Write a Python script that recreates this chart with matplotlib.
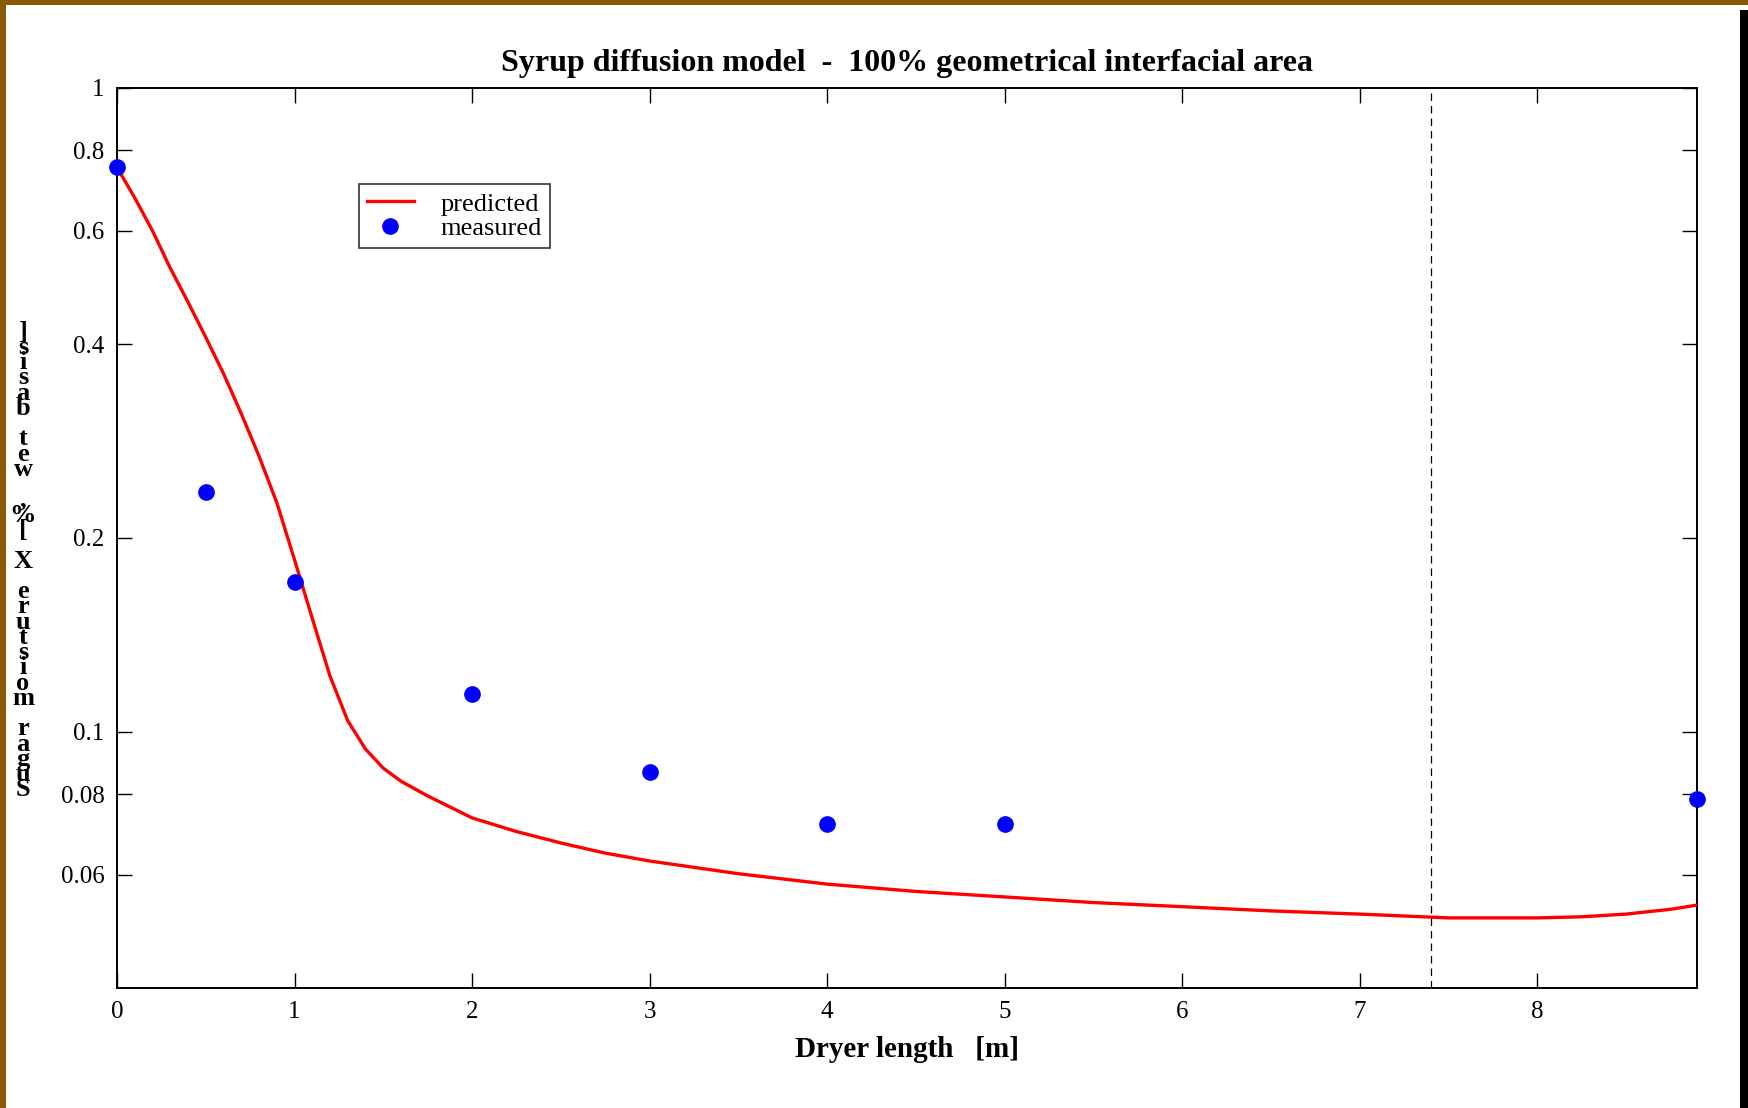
import matplotlib
matplotlib.use('Agg')
import matplotlib.pyplot as plt
from matplotlib.patches import Rectangle
from matplotlib.ticker import FixedLocator, NullLocator

# predicted curve
pred_x = [0.0, 0.1, 0.2, 0.3, 0.4, 0.5, 0.6, 0.7, 0.8, 0.9, 1.0, 1.1, 1.2,
          1.3, 1.4, 1.5, 1.6, 1.75, 2.0, 2.25, 2.5, 2.75, 3.0, 3.5, 4.0, 4.5,
          5.0, 5.5, 6.0, 6.5, 7.0, 7.5, 8.0, 8.25, 8.5, 8.75, 8.9]
pred_y = [0.753, 0.675, 0.6, 0.525, 0.465, 0.41, 0.36, 0.312, 0.268, 0.227,
          0.185, 0.15, 0.122, 0.104, 0.094, 0.0878, 0.0838, 0.0795, 0.0735,
          0.0700, 0.0672, 0.0648, 0.0630, 0.0602, 0.0580, 0.0565, 0.0554,
          0.0543, 0.0535, 0.0527, 0.0521, 0.0514, 0.0514, 0.0516, 0.0521,
          0.0530, 0.0538]

# measured points
meas_x = [0.0, 0.5, 1.0, 2.0, 3.0, 4.0, 5.0, 8.9]
meas_y = [0.753, 0.236, 0.171, 0.1146, 0.0866, 0.0718, 0.0718, 0.0787]

yticks = [0.06, 0.08, 0.1, 0.2, 0.4, 0.6, 0.8, 1]
ytick_labels = ['0.06', '0.08', '0.1', '0.2', '0.4', '0.6', '0.8', '1']
xticks = [0, 1, 2, 3, 4, 5, 6, 7, 8]
dryer_end = 7.4

ylabel = 'Sugar moisture X [%, wet basis]'

plt.rcParams['font.family'] = ['Liberation Serif', 'DejaVu Serif']

fig = plt.figure(figsize=(17.49, 11.08), dpi=100)
ax = fig.add_axes([117/1749, 1 - 988/1108, 1580/1749, 900/1108])

ax.plot(pred_x, pred_y, color='red', lw=2.4, label='predicted', zorder=3)
ax.plot(meas_x, meas_y, 'o', color='blue', ms=11, label='measured',
        clip_on=False, zorder=4)
ax.axvline(dryer_end, color='black', lw=0.9, ls=(0, (6, 4)))

ax.set_yscale('log')
ax.set_xlim(0, 8.9)
ax.set_ylim(0.04, 1)
ax.yaxis.set_major_locator(FixedLocator(yticks))
ax.yaxis.set_minor_locator(NullLocator())
ax.set_yticklabels(ytick_labels)
ax.set_xticks(xticks)
ax.tick_params(direction='in', length=11, width=1, top=True, right=True,
               labelsize=18, pad=9)
for s in ax.spines.values():
    s.set_linewidth(1.4)

ax.set_title('Syrup diffusion model  -  100% geometrical interfacial area',
             fontsize=23, fontweight='bold', pad=12)
ax.set_xlabel('Dryer length   [m]', fontsize=21, fontweight='bold', labelpad=10)

# stacked vertical y label, characters upright, reading bottom to top
fig.text(23/1749, 1 - 561/1108, '\n'.join(reversed(ylabel)), fontsize=19,
         fontweight='bold', ha='center', va='center', linespacing=0.57)

leg = ax.legend(loc='upper left', bbox_to_anchor=(0.153, 0.893), fontsize=19,
                frameon=True, fancybox=False, edgecolor='black',
                handlelength=1.8, borderpad=0.3, labelspacing=0.05,
                handletextpad=1.0, borderaxespad=0)
leg.get_frame().set_linewidth(1.2)

# slide frame
brown = '#8a5a00'
fig.add_artist(Rectangle((0, 1 - 5/1108), 1, 5/1108, transform=fig.transFigure,
                         color=brown, lw=0))
fig.add_artist(Rectangle((0, 0), 6/1749, 1, transform=fig.transFigure,
                         color=brown, lw=0))
fig.add_artist(Rectangle((1740/1749, 0), 8/1749, 1 - 10/1108,
                         transform=fig.transFigure, color='black', lw=0))
fig.add_artist(Rectangle((1748/1749, 0), 1/1749, 1, transform=fig.transFigure,
                         color=brown, lw=0))

fig.savefig('out.png', dpi=100)
